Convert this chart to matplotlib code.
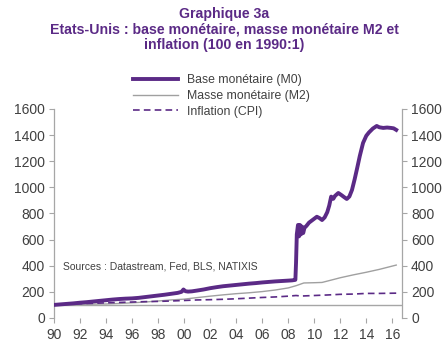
import matplotlib
matplotlib.use("Agg")
import matplotlib.pyplot as plt
import numpy as np

plt.rcParams['font.family'] = ['Liberation Sans', 'DejaVu Sans']

# Base monétaire (M0)
m0_t = [1990.0, 1990.5, 1991.0, 1991.5, 1992.0, 1992.5, 1993.0, 1993.5, 1994.0, 1994.5,
        1995.0, 1995.5, 1996.0, 1996.5, 1997.0, 1997.5, 1998.0, 1998.5, 1999.0, 1999.5,
        1999.8, 1999.95, 2000.1, 2000.3, 2000.6, 2001.0, 2001.5, 2002.0, 2002.5, 2003.0,
        2003.5, 2004.0, 2004.5, 2005.0, 2005.5, 2006.0, 2006.5, 2007.0, 2007.5, 2008.0,
        2008.3, 2008.5, 2008.55, 2008.6, 2008.66, 2008.75, 2008.83, 2008.9, 2008.98, 2009.06,
        2009.15, 2009.25, 2009.4, 2009.6, 2009.8, 2010.0, 2010.2, 2010.4, 2010.6, 2010.8,
        2011.0, 2011.15, 2011.3, 2011.46, 2011.6, 2011.85, 2012.1, 2012.3, 2012.5, 2012.7,
        2012.9, 2013.1, 2013.3, 2013.5, 2013.75, 2014.0, 2014.2, 2014.5, 2014.8, 2015.0,
        2015.3, 2015.6, 2015.9, 2016.1, 2016.3]
m0_v = [100, 104, 108, 112, 117, 121, 126, 131, 136, 141,
        145, 148, 150, 154, 160, 166, 172, 178, 185, 192,
        200, 218, 205, 202, 204, 210, 218, 228, 236, 243,
        248, 253, 258, 263, 267, 272, 276, 280, 283, 286,
        288, 291, 292, 420, 640, 712, 625, 712, 640, 700,
        650, 690, 705, 730, 745, 760, 775, 765, 750, 770,
        810, 860, 929, 912, 935, 957, 940, 925, 911, 930,
        980, 1060, 1148, 1240, 1340, 1395, 1420, 1450, 1470, 1460,
        1455, 1458, 1455, 1452, 1440]

# Masse monétaire (M2)
m2_t = [1990, 1991, 1992, 1993, 1994, 1995, 1996, 1997, 1998, 1999, 2000, 2001, 2002,
        2003, 2004, 2005, 2006, 2007, 2008, 2008.6, 2009.2, 2010, 2010.6, 2011.5, 2012,
        2013, 2014, 2015, 2016.3]
m2_v = [100, 103, 105, 106, 107, 111, 116, 122, 130, 138, 144, 156, 167,
        177, 186, 193, 202, 214, 230, 247, 268, 270, 272, 295, 308,
        330, 350, 372, 405]

# Inflation (CPI)
cpi_t = [1990, 1991, 1992, 1993, 1994, 1995, 1996, 1997, 1998, 1999, 2000, 2001, 2002,
         2003, 2004, 2005, 2006, 2007, 2008, 2008.6, 2009, 2010, 2011, 2012, 2013, 2014,
         2015, 2016.3]
cpi_v = [100, 105, 109, 112, 116, 119, 122, 125, 127, 130, 134, 138, 140,
         143, 147, 152, 157, 161, 167, 172, 168, 172, 176, 181, 183, 188,
         188, 190]

x_ticks = [1990, 1992, 1994, 1996, 1998, 2000, 2002, 2004, 2006, 2008, 2010, 2012, 2014, 2016]
x_labels = ['90', '92', '94', '96', '98', '00', '02', '04', '06', '08', '10', '12', '14', '16']
y_ticks = [0, 200, 400, 600, 800, 1000, 1200, 1400, 1600]

purple = '#5B2A86'
gray = '#A0A0A0'
axcol = '#A6A6A6'
txt = '#404040'

fig = plt.figure(figsize=(4.48, 3.46), dpi=100)
ax = fig.add_axes([0.1205, 0.081, 0.777, 0.604])

ax.axhline(100, color=axcol, lw=1.0, zorder=1)
l1, = ax.plot(m0_t, m0_v, color=purple, lw=2.8, label='Base monétaire (M0)', zorder=4,
              solid_joinstyle='round')
l2, = ax.plot(m2_t, m2_v, color=gray, lw=1.0, label='Masse monétaire (M2)', zorder=3)
l3, = ax.plot(cpi_t, cpi_v, color=purple, lw=1.2, ls=(0, (4, 2.5)), label='Inflation (CPI)', zorder=3)

ax.set_xlim(1990, 2016.75)
ax.set_ylim(0, 1600)
ax.set_xticks(x_ticks)
ax.set_xticklabels(x_labels)
ax.set_yticks(y_ticks)

for s in ['top', 'bottom']:
    ax.spines[s].set_visible(False)
for s in ['left', 'right']:
    ax.spines[s].set_color(axcol)
    ax.spines[s].set_linewidth(0.9)

ax.tick_params(axis='both', colors=axcol, labelcolor=txt, labelsize=10, length=3.5, width=0.8, direction='out')
ax.tick_params(axis='x', pad=4)
ax.tick_params(axis='y', right=True, labelright=True, pad=3)

ax.text(1990.7, 395, 'Sources : Datastream, Fed, BLS, NATIXIS', fontsize=7.5, color=txt, va='center', ha='left')

fig.text(0.5, 0.979, 'Graphique 3a\nEtats-Unis : base monétaire, masse monétaire M2 et\ninflation (100 en 1990:1)',
         ha='center', va='top', fontsize=10.2, fontweight='bold', color=purple, linespacing=1.12)

leg = fig.legend(handles=[l1, l2, l3], loc='upper left', bbox_to_anchor=(0.297, 0.785),
                 frameon=False, fontsize=8.8, handlelength=3.7, handletextpad=0.75,
                 labelspacing=0.3, borderaxespad=0, borderpad=0)
for t in leg.get_texts():
    t.set_color(txt)

fig.savefig('out.png', dpi=100)
